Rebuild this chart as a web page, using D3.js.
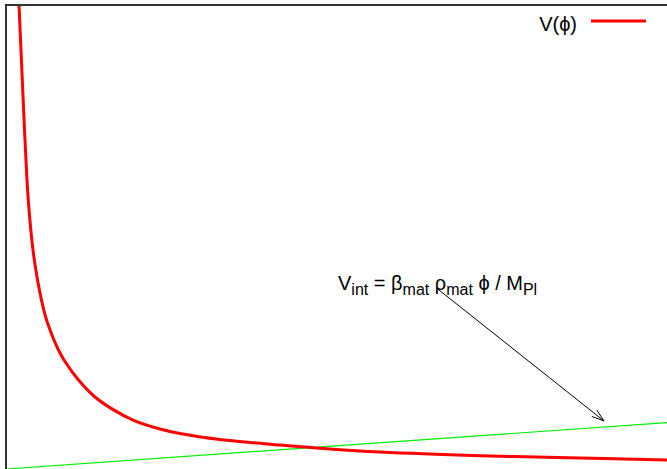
<!DOCTYPE html>
<html>
<head>
<meta charset="utf-8">
<script src="https://cdn.jsdelivr.net/npm/d3@7/dist/d3.min.js"></script>
<style>
  html, body { margin: 0; padding: 0; background: #fff; }
  svg { display: block; font-family: "Liberation Sans", Arial, Helvetica, sans-serif; }
</style>
</head>
<body>
<script>
// Field value phi (arbitrary units) and potential V(phi)
const phi = [0.197, 0.260, 0.295, 0.337, 0.408, 0.477, 0.537, 0.613, 0.666, 0.726,
             0.794, 0.885, 1.097, 1.346, 1.634, 1.921, 2.330, 2.632, 3.238, 4.145,
             4.902, 5.658, 7.171, 8.684, 10.000];
const potential = [10.00, 7.98, 6.91, 5.85, 4.79, 4.15, 3.72, 3.30, 3.09, 2.87,
                   2.66, 2.43, 2.02, 1.66, 1.38, 1.17, 0.979, 0.883, 0.755, 0.638,
                   0.553, 0.489, 0.411, 0.362, 0.319];

// Linear interaction term
const interactionPhi = [0, 10];
const interactionV = [0.128, 1.115];

// Annotation arrow: label anchor and arrow tip, in data units
const arrowFrom = [6.52, 3.97];
const arrowTo = [9.047, 1.149];

const legendLabel = "V(\u03d5)";

const W = 667, H = 469;
const margin = { left: 6, top: 5 };
const plotW = 661, plotH = 470;

const svg = d3.select("body").append("svg")
  .attr("width", W).attr("height", H);

const x = d3.scaleLinear().domain([0, 10]).range([margin.left, margin.left + plotW]);
const y = d3.scaleLinear().domain([0, 10]).range([margin.top + plotH, margin.top]);

svg.append("clipPath").attr("id", "plot-clip")
  .append("rect")
  .attr("x", margin.left).attr("y", margin.top)
  .attr("width", plotW + 20).attr("height", plotH + 20);

const plot = svg.append("g").attr("clip-path", "url(#plot-clip)");

// Interaction line
plot.append("path")
  .datum(d3.zip(interactionPhi, interactionV))
  .attr("fill", "none")
  .attr("stroke", "#00ee00")
  .attr("stroke-width", 1.2)
  .attr("d", d3.line().x(d => x(d[0])).y(d => y(d[1])));

// Potential curve
plot.append("path")
  .datum(d3.zip(phi, potential))
  .attr("fill", "none")
  .attr("stroke", "#ff0000")
  .attr("stroke-width", 3)
  .attr("stroke-linejoin", "round")
  .attr("d", d3.line().curve(d3.curveCatmullRom.alpha(0.5)).x(d => x(d[0])).y(d => y(d[1])));

// Frame (right and bottom edges fall outside the view)
svg.append("path")
  .attr("fill", "none")
  .attr("stroke", "#333")
  .attr("stroke-width", 2)
  .attr("d", `M${margin.left},${H + 10}V${margin.top}H${W + 10}`);

// Arrow
const ax0 = x(arrowFrom[0]), ay0 = y(arrowFrom[1]);
const ax1 = x(arrowTo[0]), ay1 = y(arrowTo[1]);
const ang = Math.atan2(ay1 - ay0, ax1 - ax0);
const headLen = 13, headAng = Math.PI / 10;
const arrow = svg.append("g").attr("stroke", "#000").attr("stroke-width", 1).attr("fill", "none");
arrow.append("line").attr("x1", ax0).attr("y1", ay0).attr("x2", ax1).attr("y2", ay1);
arrow.append("path").attr("d",
  `M${ax1 - headLen * Math.cos(ang - headAng)},${ay1 - headLen * Math.sin(ang - headAng)}` +
  `L${ax1},${ay1}` +
  `L${ax1 - headLen * Math.cos(ang + headAng)},${ay1 - headLen * Math.sin(ang + headAng)}`);

// Annotation label with subscripts
const label = svg.append("text")
  .attr("x", 338).attr("y", 290)
  .attr("font-size", 20).attr("fill", "#000");
const parts = [
  ["V", false], ["int", true], [" = \u03b2", false], ["mat", true],
  [" \u03c1", false], ["mat", true], [" \u03d5 / M", false], ["Pl", true]
];
let shift = 0;
parts.forEach(([t, sub]) => {
  const target = sub ? 5 : 0;
  label.append("tspan")
    .attr("font-size", sub ? 16 : 20)
    .attr("dy", target - shift)
    .text(t);
  shift = target;
});

// Legend
svg.append("text")
  .attr("x", 577).attr("y", 31)
  .attr("text-anchor", "end")
  .attr("font-size", 20)
  .attr("fill", "#000")
  .text(legendLabel);
svg.append("line")
  .attr("x1", 591).attr("x2", 646)
  .attr("y1", 21).attr("y2", 21)
  .attr("stroke", "#ff0000").attr("stroke-width", 3);
</script>
</body>
</html>
